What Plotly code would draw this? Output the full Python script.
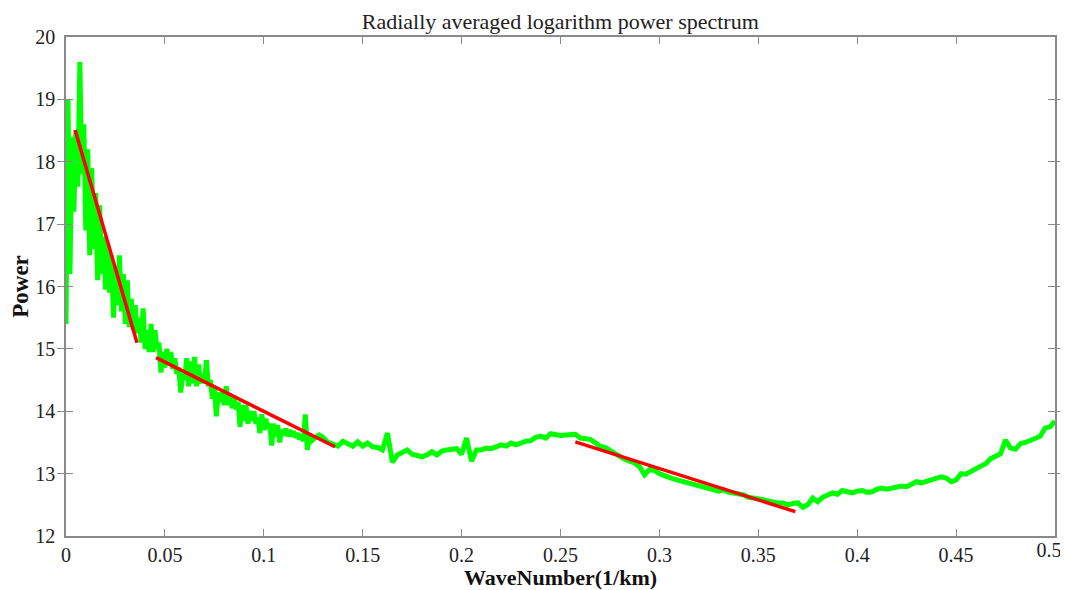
import numpy as np
import plotly.graph_objects as go

# ---- data ----
# Part 1: noisy low-wavenumber part, sampled every 0.001 (1/km) from 0 to 0.130
wavenumber_part1_start = 0.0
wavenumber_part1_step = 0.001
power_part1 = [
    15.4, 19.0, 16.2, 18.4, 17.2, 18.5, 17.6, 19.6, 17.8, 18.6,
    16.9, 18.2, 16.5, 17.9, 16.6, 17.5, 16.1, 17.3, 16.2, 16.8,
    15.95, 16.7, 15.9, 16.5, 15.5, 16.3, 15.7, 16.5, 15.6, 16.2,
    15.4, 16.1, 15.35, 15.8, 15.3, 15.7, 15.25, 15.5, 15.1, 15.65,
    15.0, 15.3, 14.95, 15.4, 14.95, 15.3, 15.0, 15.1, 14.62, 14.95,
    14.7, 15.0, 14.75, 14.95, 14.68, 14.85, 14.6, 14.7, 14.3, 14.6,
    14.5, 14.85, 14.4, 14.8, 14.45, 14.87, 14.4, 14.75, 14.45, 14.6,
    14.45, 14.82, 14.4, 14.5, 14.2, 14.4, 13.92, 14.3, 14.15, 14.3,
    14.1, 14.4, 14.1, 14.22, 14.05, 14.2, 14.03, 14.15, 13.75, 14.1,
    13.85, 14.1, 13.8, 14.0, 13.85, 14.0, 13.8, 13.9, 13.65, 13.95,
    13.7, 13.88, 13.72, 13.8, 13.45, 13.8, 13.6, 13.78, 13.5, 13.7,
    13.62, 13.72, 13.6, 13.7, 13.6, 13.68, 13.58, 13.65, 13.55, 13.62,
    13.52, 13.95, 13.38, 13.6, 13.52, 13.56, 13.58, 13.6, 13.62, 13.6,
    13.58,
]
# Part 2: smoother part, sampled every 0.0025 (1/km) from 0.1325 to 0.5
wavenumber_part2_start = 0.1325
wavenumber_part2_step = 0.0025
power_part2 = [
    13.5, 13.47, 13.44, 13.52, 13.48, 13.44, 13.51, 13.44, 13.49, 13.43,
    13.42, 13.38, 13.65, 13.18, 13.3, 13.34, 13.38, 13.31, 13.28, 13.27,
    13.3, 13.35, 13.3, 13.36, 13.38, 13.39, 13.4, 13.31, 13.57, 13.2,
    13.38, 13.38, 13.41, 13.4, 13.43, 13.46, 13.44, 13.49, 13.46, 13.5,
    13.52, 13.53, 13.58, 13.6, 13.57, 13.64, 13.62, 13.61, 13.62, 13.63,
    13.63, 13.57, 13.57, 13.55, 13.5, 13.44, 13.42, 13.37, 13.31, 13.27,
    13.23, 13.2, 13.17, 13.11, 12.98, 13.07, 13.05, 13.0, 12.98, 12.94,
    12.91, 12.89, 12.87, 12.85, 12.81, 12.79, 12.79, 12.77, 12.73, 12.72,
    12.74, 12.7, 12.69, 12.68, 12.66, 12.62, 12.61, 12.6, 12.58, 12.56,
    12.54, 12.53, 12.53, 12.5, 12.52, 12.53, 12.46, 12.5, 12.61, 12.55,
    12.62, 12.66, 12.69, 12.67, 12.73, 12.71, 12.69, 12.72, 12.73, 12.7,
    12.71, 12.75, 12.77, 12.75, 12.77, 12.79, 12.8, 12.79, 12.84, 12.87,
    12.85, 12.88, 12.91, 12.94, 12.95, 12.93, 12.87, 12.9, 13.0, 12.99,
    13.04, 13.07, 13.12, 13.16, 13.24, 13.28, 13.32, 13.54, 13.41, 13.39,
    13.48, 13.5, 13.53, 13.55, 13.6, 13.73, 13.75, 13.84,
]

# Red linear fits (start and end points)
fit1_x = [0.0046, 0.0359]
fit1_y = [18.51, 15.10]
fit2_x = [0.0455, 0.136]
fit2_y = [14.86, 13.43]
fit3_x = [0.2575, 0.3687]
fit3_y = [13.51, 12.39]

x_tick_vals = [0, 0.05, 0.1, 0.15, 0.2, 0.25, 0.3, 0.35, 0.4, 0.45, 0.5]
x_tick_text = ["0", "0.05", "0.1", "0.15", "0.2", "0.25", "0.3", "0.35", "0.4", "0.45", ""]
x_last_tick_val = [0.5]
x_last_tick_text = ["0.5"]
y_tick_vals = [12, 13, 14, 15, 16, 17, 18, 19, 20]

# ---- build ----
x1 = wavenumber_part1_start + wavenumber_part1_step * np.arange(len(power_part1))
x2 = wavenumber_part2_start + wavenumber_part2_step * np.arange(len(power_part2))
wavenumber = np.concatenate([x1, x2])
power = np.array(power_part1 + power_part2)

SERIF = "Liberation Serif, Times New Roman, serif"
FRAME = "#8a8a8a"
TICKFONT = dict(family=SERIF, size=20, color="#222222")

fig = go.Figure()
fig.add_trace(go.Scatter(x=wavenumber, y=power, mode="lines",
                         line=dict(color="#00ff00", width=5), showlegend=False))
for fx, fy in [(fit1_x, fit1_y), (fit2_x, fit2_y), (fit3_x, fit3_y)]:
    fig.add_trace(go.Scatter(x=fx, y=fy, mode="lines",
                             line=dict(color="#ff0000", width=3.5), showlegend=False))
# empty trace so the overlay axis (carrying the last tick label) is drawn
fig.add_trace(go.Scatter(x=[], y=[], xaxis="x2", yaxis="y", mode="lines",
                         showlegend=False, hoverinfo="skip"))

axis_common = dict(showgrid=False, zeroline=False, showline=True, linecolor=FRAME,
                   linewidth=1.5, mirror="allticks", ticks="inside", ticklen=7,
                   tickcolor=FRAME, tickwidth=1.2, automargin=False,
                   ticklabeloverflow="allow", tickfont=TICKFONT)

# The page body adds an 8px offset, so the figure is 8px smaller than the window
fig.update_layout(
    width=1060, height=582,
    margin=dict(l=58, r=13, t=29, b=54),
    paper_bgcolor="white", plot_bgcolor="white",
    title=dict(text="Radially averaged logarithm power spectrum",
               font=dict(family=SERIF, size=22, color="#222222"),
               x=0.521, xanchor="center", y=0.978, yanchor="middle"),
    xaxis=dict(range=[0, 0.5], tickvals=x_tick_vals, ticktext=x_tick_text,
               ticklabelstandoff=0,
               title=dict(text="<b>WaveNumber(1/km)</b>",
                          font=dict(family=SERIF, size=22, color="#111111"), standoff=11),
               **axis_common),
    # overlay axis only for the last label, nudged left so it stays inside the page
    xaxis2=dict(range=[0, 0.5], overlaying="x", anchor="y", side="bottom",
                tickvals=x_last_tick_val, ticktext=x_last_tick_text,
                showgrid=False, zeroline=False, showline=False, ticks="",
                ticklabelstandoff=0, ticklabelshift=-6, automargin=False,
                ticklabeloverflow="allow", tickfont=TICKFONT),
    yaxis=dict(range=[12, 20], tickvals=y_tick_vals, ticklabelstandoff=5,
               title=dict(text="<b>Power</b>",
                          font=dict(family=SERIF, size=23, color="#111111"), standoff=4),
               **axis_common),
)

fig.write_html("out.html")
